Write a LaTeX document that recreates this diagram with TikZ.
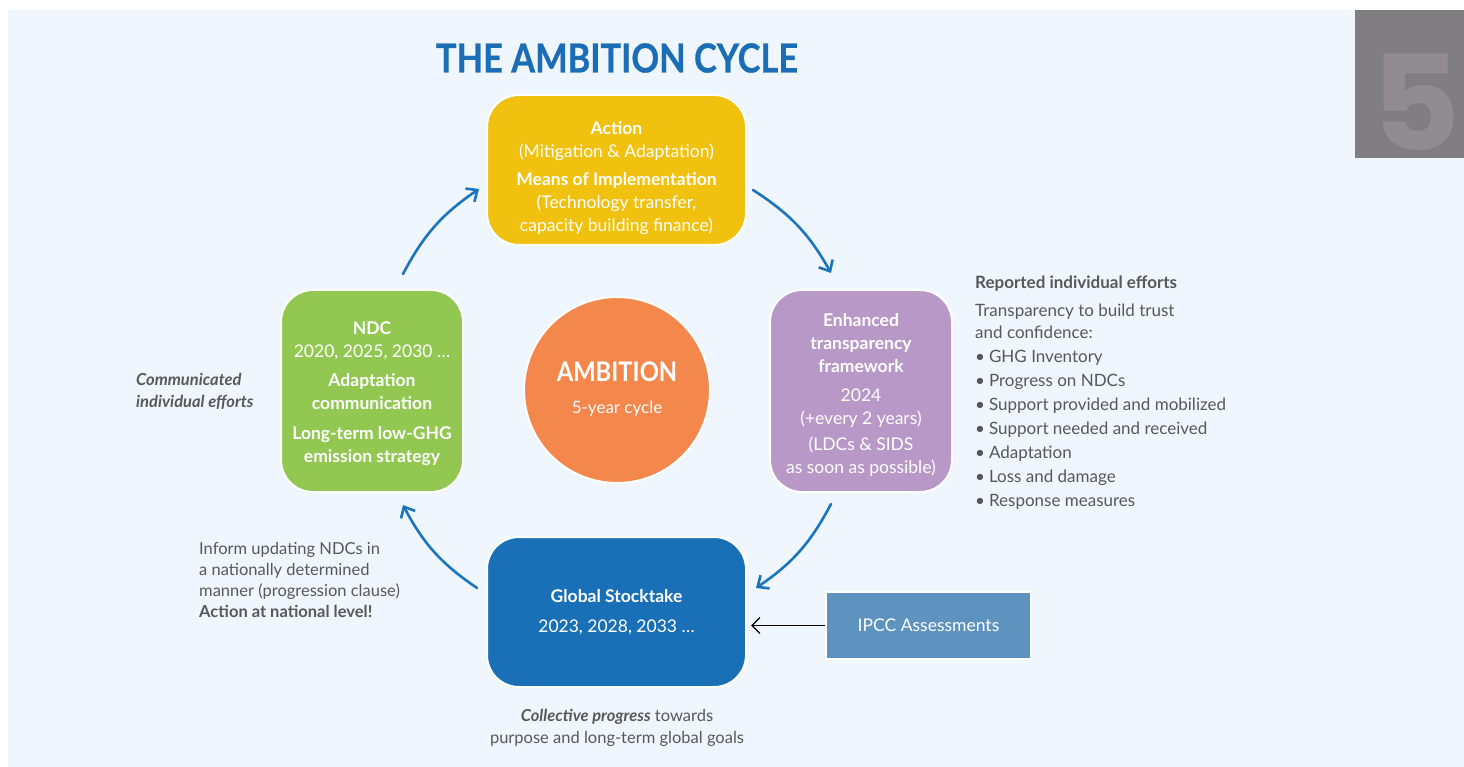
\documentclass[tikz,border=0pt]{standalone}
\usepackage{fontspec}
\setmainfont{Lato}
\newfontfamily\titlefont[FakeStretch=0.86,FakeBold=0.6]{Lato}
\newfontfamily\condfont[FakeStretch=0.88]{Lato}
\newfontfamily\digitfont[FakeStretch=1.04]{Poppins}
\usetikzlibrary{arrows.meta}
\definecolor{bgblue}{RGB}{239,246,253}
\definecolor{titleblue}{RGB}{27,110,182}
\definecolor{boxyellow}{RGB}{240,193,14}
\definecolor{boxgreen}{RGB}{146,200,82}
\definecolor{boxpurple}{RGB}{183,152,199}
\definecolor{boxblue}{RGB}{26,112,183}
\definecolor{circorange}{RGB}{243,135,76}
\definecolor{ipccblue}{RGB}{94,147,192}
\definecolor{arrowblue}{RGB}{27,117,188}
\definecolor{txtgray}{RGB}{88,88,90}
\definecolor{blockgray}{RGB}{128,126,129}
\definecolor{digitgray}{RGB}{145,140,144}
\newcommand{\bul}{\textbullet\hspace{4pt}}
\tikzset{
  cyclebox/.style={draw=white, line width=2pt, rounded corners=32pt, inner sep=0pt},
  boxtext/.style={text=white, align=center, inner sep=0pt, font=\fontsize{17.5}{23}\selectfont},
  cyclearrow/.style={draw=arrowblue, line width=2.6pt, line cap=round,
    -{Straight Barb[length=9pt,width=16pt,line width=2.6pt]}, bend left=14},
  sidetext/.style={text=txtgray, align=left, inner sep=0pt, anchor=north west,
    font=\fontsize{16}{23}\selectfont},
}
\begin{document}
\begin{tikzpicture}[x=1pt,y=-1pt]
\useasboundingbox (0,0) rectangle (1464,767);
\fill[white] (0,0) rectangle (1464,767);
\fill[bgblue] (8,10) rectangle (1464,767);
% gray block with digit
\fill[blockgray] (1355,10) rectangle (1464,158);
\begin{scope}
\clip (1355,10) rectangle (1464,158);
\node[text=digitgray, inner sep=0pt, anchor=base, font=\digitfont\fontsize{132}{132}\selectfont\bfseries] (five) at (1416,151) {5};
\end{scope}
% title
\node[text=titleblue, inner sep=0pt, font=\titlefont\fontsize{40}{40}\selectfont\bfseries] (title) at (617,58) {THE AMBITION CYCLE};
% boxes
\node[cyclebox, fill=boxyellow, minimum width=259pt, minimum height=150pt] (action) at (616.5,170) {};
\node[boxtext] (actiontxt) at ([yshift=-8pt]action.center)
  {\textbf{Action}\\(Mitigation \& Adaptation)\\[5pt]\textbf{Means of Implementation}\\(Technology transfer,\\capacity building finance)};
\node[cyclebox, fill=boxgreen, minimum width=182pt, minimum height=202pt] (ndc) at (372,391) {};
\node[boxtext] (ndctxt) at ([yshift=-2.5pt]ndc.center)
  {\textbf{NDC}\\2020, 2025, 2030 \dots\\[6pt]\textbf{Adaptation}\\\textbf{communication}\\[7pt]\textbf{Long-term low-GHG}\\\textbf{emission strategy}};
\node[cyclebox, fill=boxpurple, minimum width=182pt, minimum height=202pt] (etf) at (861,391) {};
\node[boxtext] (etftxt) at ([yshift=-4pt]etf.center)
  {\textbf{Enhanced}\\\textbf{transparency}\\\textbf{framework}\\[6pt]2024\\(+every 2 years)\\[3pt](LDCs \& SIDS\\as soon as possible)};
\node[cyclebox, fill=boxblue, minimum width=259pt, minimum height=150pt] (gst) at (616.5,612) {};
\node[boxtext] (gsttxt) at (gst.center)
  {\textbf{Global Stocktake}\\[7pt]2023, 2028, 2033 \dots};
\node[circle, fill=circorange, draw=white, line width=2pt, minimum size=186pt, inner sep=0pt] (amb) at (617,390) {};
\node[text=white, align=center, inner sep=0pt, font=\fontsize{27}{32}\selectfont] (ambtxt) at ([yshift=1pt]amb.center)
  {{\condfont\bfseries AMBITION}\\{\fontsize{17}{20}\selectfont 5-year cycle}};
\node[fill=ipccblue, draw=white, line width=2pt, minimum width=205pt, minimum height=67pt, text=white, inner sep=0pt, font=\fontsize{17.5}{20}\selectfont] (ipcc) at (928.5,625.5) {IPCC Assessments};
% cycle arrows
\coordinate (a1s) at (403,274);
\coordinate (a1e) at (479,189);
\coordinate (a2s) at (753,190);
\coordinate (a2e) at (831,273);
\coordinate (a3s) at (831,504);
\coordinate (a3e) at (756,588);
\coordinate (a4s) at (477,588);
\coordinate (a4e) at (403,505);
\draw[cyclearrow] (a1s) to (a1e);
\draw[cyclearrow] (a2s) to (a2e);
\draw[cyclearrow] (a3s) to (a3e);
\draw[cyclearrow] (a4s) to (a4e);
\draw[line width=1.3pt, -{Straight Barb[length=8pt,width=16pt,line width=1.3pt]}, shorten >=4pt] (ipcc.west) -- (gst.east |- ipcc.west);
% side texts
\node[sidetext, font=\fontsize{16.5}{22}\selectfont\bfseries\itshape] (comm) at (136,373) {Communicated\\individual efforts};
\node[sidetext, font=\fontsize{16.5}{21}\selectfont] (inform) at (199,542) {Inform updating NDCs in\\a nationally determined\\manner (progression clause)\\\textbf{Action at national level!}};
\node[sidetext, font=\fontsize{17}{23}\selectfont\bfseries] (rep) at (975,276) {Reported individual efforts};
\node[sidetext, font=\fontsize{17}{24}\selectfont] (trans) at (975,304) {Transparency to build trust\\[-2.5pt]and confidence:\\\bul GHG Inventory\\\bul Progress on NDCs\\\bul Support provided and mobilized\\\bul Support needed and received\\\bul Adaptation\\\bul Loss and damage\\\bul Response measures};
\node[text=txtgray, align=center, inner sep=0pt, anchor=north, font=\fontsize{16.5}{22}\selectfont] (coll) at (617,709) {\textbf{\itshape Collective progress} towards\\purpose and long-term global goals};
\end{tikzpicture}
\end{document}
